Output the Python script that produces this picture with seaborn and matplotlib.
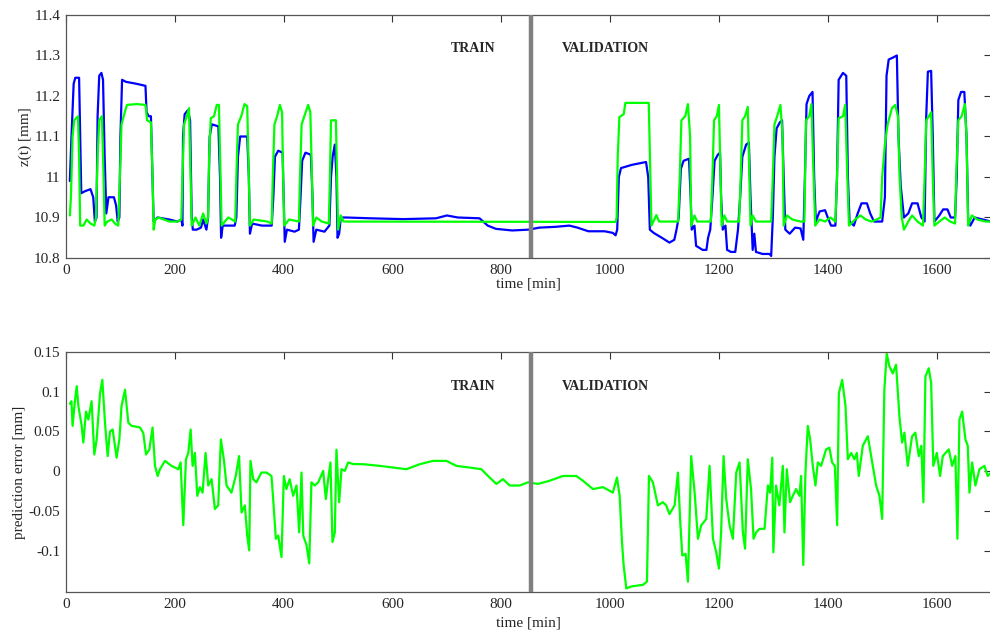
import matplotlib
matplotlib.use("Agg")
import matplotlib.pyplot as plt
import seaborn as sns
import pandas as pd
from matplotlib.ticker import FormatStrFormatter

meas_t = [7, 10, 14, 17, 24, 26, 28, 35, 45, 50, 53, 56, 58, 61, 65, 68, 71, 74, 78, 88,
          92, 95, 98, 100, 103, 110, 130, 146, 148, 152, 156, 159, 161, 168, 190, 205, 212, 214, 215, 218,
          224, 228, 231, 233, 240, 248, 252, 258, 261, 264, 268, 280, 283, 285, 288, 300, 310, 313, 316, 320,
          333, 336, 338, 342, 360, 378, 381, 384, 390, 398, 400, 402, 406, 420, 428, 431, 434, 440, 450, 453,
          455, 460, 475, 484, 487, 490, 494, 497, 499, 502, 505, 515, 560, 620, 680, 700, 720, 760, 775, 790,
          820, 850, 870, 900, 925, 940, 960, 990, 1005, 1010, 1013, 1016, 1020, 1040, 1066, 1070, 1073, 1080, 1095, 1109,
          1118, 1122, 1126, 1130, 1135, 1145, 1148, 1150, 1155, 1158, 1170, 1177, 1180, 1184, 1188, 1192, 1198, 1202, 1204, 1207,
          1212, 1215, 1222, 1230, 1235, 1239, 1243, 1250, 1255, 1258, 1262, 1265, 1268, 1280, 1293, 1296, 1299, 1302, 1306, 1312,
          1316, 1319, 1322, 1330, 1340, 1350, 1355, 1358, 1361, 1366, 1372, 1375, 1378, 1385, 1395, 1400, 1406, 1414, 1417, 1420,
          1428, 1434, 1437, 1440, 1448, 1455, 1462, 1472, 1478, 1485, 1500, 1505, 1508, 1512, 1520, 1527, 1530, 1534, 1540, 1548,
          1555, 1565, 1572, 1578, 1581, 1584, 1590, 1593, 1596, 1605, 1612, 1620, 1626, 1634, 1637, 1640, 1645, 1651, 1655, 1658,
          1662, 1670, 1685, 1700]
meas_z = [10.99, 11.10, 11.23, 11.245, 11.245, 11.10, 10.96, 10.965, 10.97, 10.95, 10.89, 10.90, 11.15, 11.25, 11.257, 11.24, 11.05, 10.91, 10.95, 10.95,
          10.93, 10.89, 10.90, 11.10, 11.24, 11.235, 11.23, 11.225, 11.16, 11.15, 11.15, 11.0, 10.89, 10.90, 10.895, 10.89, 10.895, 10.88, 11.10, 11.155,
          11.165, 11.14, 10.90, 10.87, 10.87, 10.875, 10.895, 10.87, 10.90, 11.10, 11.13, 11.125, 11.0, 10.85, 10.88, 10.88, 10.88, 10.90, 11.05, 11.10,
          11.10, 11.0, 10.86, 10.885, 10.88, 10.88, 10.95, 11.05, 11.065, 11.06, 10.95, 10.84, 10.87, 10.865, 10.87, 10.95, 11.04, 11.06, 11.055, 10.95,
          10.84, 10.87, 10.865, 10.88, 11.00, 11.05, 11.08, 11.0, 10.85, 10.86, 10.90, 10.90, 10.898, 10.896, 10.898, 10.905, 10.90, 10.898, 10.88, 10.872,
          10.868, 10.87, 10.875, 10.877, 10.88, 10.875, 10.866, 10.866, 10.862, 10.856, 10.87, 11.0, 11.022, 11.03, 11.037, 11.0, 10.87, 10.862, 10.85, 10.838,
          10.845, 10.87, 10.90, 11.02, 11.04, 11.045, 10.95, 10.87, 10.88, 10.83, 10.82, 10.82, 10.85, 10.87, 10.95, 11.04, 11.055, 11.06, 10.95, 10.87,
          10.88, 10.82, 10.815, 10.815, 10.87, 10.95, 11.05, 11.08, 11.085, 10.95, 10.82, 10.86, 10.815, 10.81, 10.81, 10.805, 10.90, 11.05, 11.12, 11.135,
          11.14, 11.0, 10.87, 10.86, 10.875, 10.873, 10.845, 11.0, 11.18, 11.20, 11.21, 11.0, 10.89, 10.915, 10.918, 10.90, 10.88, 10.88, 11.0, 11.24,
          11.257, 11.25, 11.0, 10.89, 10.88, 10.91, 10.935, 10.935, 10.91, 10.89, 10.89, 10.95, 11.25, 11.29, 11.295, 11.30, 11.1, 10.98, 10.90, 10.91,
          10.935, 10.935, 10.90, 10.89, 11.15, 11.26, 11.262, 11.1, 10.89, 10.905, 10.92, 10.92, 10.90, 10.90, 11.0, 11.19, 11.21, 11.21, 11.1, 10.90,
          10.88, 10.90, 10.895, 10.89]

model_t = [7, 9, 12, 15, 22, 24, 26, 32, 38, 45, 52, 55, 58, 61, 66, 69, 71, 76, 84, 90,
           96, 99, 102, 108, 112, 130, 146, 149, 156, 159, 161, 164, 170, 190, 205, 212, 214, 217, 222, 226,
           229, 231, 238, 245, 252, 258, 261, 263, 266, 272, 277, 281, 284, 286, 292, 298, 305, 311, 313, 316,
           322, 328, 333, 336, 338, 345, 370, 378, 380, 383, 388, 393, 397, 399, 401, 410, 428, 430, 433, 438,
           445, 449, 452, 454, 460, 470, 483, 485, 487, 496, 498, 500, 505, 510, 1010, 1012, 1014, 1017, 1025, 1028,
           1071, 1074, 1076, 1085, 1090, 1125, 1128, 1131, 1138, 1143, 1147, 1149, 1155, 1160, 1185, 1188, 1191, 1196, 1200, 1203,
           1205, 1210, 1215, 1237, 1240, 1243, 1248, 1253, 1256, 1258, 1262, 1268, 1296, 1299, 1302, 1307, 1313, 1317, 1319, 1325,
           1335, 1350, 1357, 1360, 1366, 1370, 1374, 1377, 1385, 1395, 1405, 1414, 1417, 1420, 1428, 1432, 1436, 1439, 1450, 1460,
           1470, 1480, 1490, 1497, 1500, 1505, 1510, 1518, 1524, 1529, 1532, 1536, 1540, 1548, 1555, 1565, 1575, 1578, 1581, 1586,
           1590, 1593, 1596, 1605, 1615, 1625, 1634, 1636, 1640, 1646, 1652, 1655, 1658, 1665, 1675, 1690, 1700]
model_z = [10.905, 10.95, 11.10, 11.14, 11.15, 11.05, 10.88, 10.88, 10.895, 10.885, 10.88, 10.90, 11.05, 11.14, 11.15, 11.0, 10.88, 10.89, 10.895, 10.885,
           10.88, 11.0, 11.13, 11.16, 11.178, 11.18, 11.178, 11.14, 11.135, 11.0, 10.87, 10.895, 10.90, 10.89, 10.89, 10.895, 11.0, 11.13, 11.15, 11.17,
           11.0, 10.88, 10.90, 10.88, 10.91, 10.885, 10.90, 11.05, 11.145, 11.15, 11.178, 11.178, 11.0, 10.88, 10.89, 10.90, 10.895, 10.89, 11.0, 11.13,
           11.15, 11.18, 11.175, 11.0, 10.88, 10.895, 10.89, 10.885, 11.0, 11.13, 11.15, 11.178, 11.16, 11.0, 10.88, 10.895, 10.89, 11.0, 11.13, 11.15,
           11.178, 11.16, 11.0, 10.88, 10.90, 10.89, 10.885, 11.0, 11.14, 11.14, 11.0, 10.87, 10.905, 10.89, 10.889, 10.90, 11.05, 11.148, 11.155, 11.183,
           11.183, 11.0, 10.88, 10.906, 10.89, 10.89, 11.0, 11.14, 11.15, 11.18, 11.1, 10.88, 10.905, 10.89, 10.89, 11.0, 11.14, 11.15, 11.178, 11.0,
           10.88, 10.905, 10.89, 10.89, 11.0, 11.14, 11.15, 11.173, 11.0, 10.88, 10.905, 10.89, 10.89, 11.0, 11.13, 11.15, 11.178, 11.1, 10.88, 10.905,
           10.895, 10.89, 10.89, 11.14, 11.15, 11.18, 11.0, 10.88, 10.895, 10.89, 10.90, 10.89, 11.0, 11.145, 11.15, 11.178, 11.0, 10.88, 10.895, 10.905,
           10.895, 10.89, 10.895, 10.90, 11.0, 11.08, 11.13, 11.17, 11.178, 11.15, 11.0, 10.90, 10.87, 10.89, 10.905, 10.89, 10.88, 11.0, 11.14, 11.15,
           11.16, 11.0, 10.88, 10.89, 10.90, 10.89, 10.885, 11.0, 11.14, 11.15, 11.18, 11.1, 10.88, 10.905, 10.895, 10.89, 10.89]

# prediction error [mm]
err_t = [7, 10, 12, 16, 19.6, 22.7, 28.8, 31.8, 36.7, 41, 47, 52, 56.3, 62.5, 66.7, 71.6, 76.5, 80.8, 85.7, 90,
         93, 98, 102, 108.4, 114.5, 120.6, 136, 142, 147, 153, 159, 163.5, 168.4, 172.6, 181.8, 194, 206.3, 210.6, 215.5, 220.4,
         224.7, 229, 232.6, 236.9, 241.2, 246, 251, 256.5, 261.4, 267.5, 273.6, 279.7, 284.6, 290, 295, 304, 312, 318, 322.6, 328.7,
         333, 336.7, 339, 344, 350, 359, 368.5, 377.6, 380.7, 385.6, 389.9, 396, 400.3, 405, 411, 417.5, 423.6, 428.5, 432.8, 436,
         442, 447, 451, 457, 463.5, 472.6, 477.5, 481.8, 486, 489.7, 494, 497, 502, 506.3, 512.4, 518.5, 527.7, 546, 576.7, 625.6,
         650, 674.7, 699, 717.5, 742, 763.3, 778.6, 791, 803, 815.4, 833.7, 849, 867.4, 888.8, 913.3, 937.8, 950, 968.5, 986.9, 1005,
         1012.6, 1017.5, 1021.8, 1024.8, 1029.7, 1038.9, 1060.3, 1067.7, 1071.4, 1078.6, 1087.8, 1097, 1103, 1109, 1118.5, 1124.6, 1128.9, 1132.6, 1138.7, 1143,
         1149, 1155.3, 1161.4, 1167.5, 1176.7, 1182.8, 1189, 1195, 1200, 1204, 1208.5, 1213.4, 1219.5, 1225.6, 1231.8, 1237.9, 1244, 1248, 1253, 1259,
         1263.6, 1268.5, 1274.6, 1283.8, 1290, 1294, 1298, 1300, 1305, 1311, 1317.4, 1320.4, 1324.7, 1330.8, 1335.7, 1341.8, 1348, 1351, 1355, 1359,
         1363.3, 1367.6, 1372.5, 1377.4, 1381.7, 1387.8, 1397, 1403, 1408, 1413, 1417.3, 1420.4, 1426.5, 1432.6, 1436.9, 1443, 1449, 1453.4, 1457, 1464.4,
         1473.6, 1479.7, 1488.9, 1495, 1500, 1504, 1508.4, 1513.3, 1519.4, 1525.5, 1531.7, 1536.6, 1540.9, 1547, 1555, 1561, 1567.3, 1572, 1575.8, 1579.5,
         1585.6, 1590, 1594, 1600.4, 1606.5, 1611.4, 1622.4, 1628.5, 1634.6, 1638.3, 1642, 1647, 1653, 1657.3, 1660.4, 1665.3, 1671.4, 1678.8, 1688, 1694,
         1700]
err_v = [0.085, 0.088, 0.057, 0.086, 0.107, 0.082, 0.057, 0.036, 0.075, 0.065, 0.088, 0.021, 0.04, 0.098, 0.115, 0.061, 0.019, 0.05, 0.0525, 0.032,
         0.017, 0.04, 0.082, 0.1025, 0.061, 0.057, 0.055, 0.048, 0.021, 0.027, 0.055, 0.0067, -0.006, 0.0025, 0.013, 0.0067, 0.0025, 0.011, -0.068, 0.015,
         0.023, 0.0525, 0.0067, 0.023, -0.031, -0.02, -0.027, 0.023, -0.018, -0.01, -0.0475, -0.043, 0.04, 0.015, -0.018, -0.027, -0.006, 0.019, -0.052, -0.043,
         -0.081, -0.0996, 0.013, -0.01, -0.014, -0.0017, -0.0017, -0.006, -0.035, -0.085, -0.081, -0.108, -0.006, -0.0225, -0.01, -0.031, -0.018, -0.077, -0.0017, -0.081,
         -0.093, -0.116, -0.014, -0.018, -0.014, 0.0004, -0.035, -0.01, 0.011, -0.089, -0.077, 0.027, -0.039, 0.0025, 0.0004, 0.011, 0.009, 0.0088, 0.0067, 0.0025,
         0.0088, 0.013, 0.013, 0.0067, 0.0046, 0.0025, -0.008, -0.016, -0.01, -0.018, -0.018, -0.014, -0.016, -0.012, -0.006, -0.006, -0.012, -0.0225, -0.02, -0.027,
         -0.008, -0.031, -0.089, -0.118, -0.1475, -0.145, -0.143, -0.139, -0.006, -0.014, -0.043, -0.039, -0.043, -0.054, -0.043, -0.0017, -0.064, -0.106, -0.104, -0.139,
         0.019, -0.027, -0.085, -0.068, -0.06, 0.0067, -0.085, -0.102, -0.1225, -0.077, 0.019, -0.035, -0.068, -0.085, -0.0017, 0.011, -0.077, -0.0975, 0.015, -0.0225,
         -0.085, -0.077, -0.0725, -0.0725, -0.018, -0.027, 0.017, -0.102, -0.018, -0.043, 0.0067, -0.077, 0.0025, -0.039, -0.031, -0.0225, -0.031, -0.006, -0.118, -0.0017,
         0.057, 0.04, 0.0067, -0.018, 0.011, 0.0067, 0.0275, 0.0296, 0.011, 0.0067, -0.068, 0.098, 0.115, 0.082, 0.015, 0.023, 0.015, 0.023, -0.006, 0.032,
         0.044, 0.019, -0.018, -0.031, -0.06, 0.1025, 0.148, 0.132, 0.123, 0.134, 0.069, 0.036, 0.0485, 0.0067, 0.044, 0.0485, 0.019, 0.032, -0.039, 0.119,
         0.1296, 0.111, 0.0067, 0.023, -0.006, 0.019, 0.0275, 0.0067, 0.019, -0.085, 0.065, 0.075, 0.04, 0.032, -0.027, 0.011, -0.018, 0.0025, 0.0067, -0.006,
         -0.0017]

split_t = 855
labels = ["TRAIN", "VALIDATION"]

meas = pd.DataFrame({"t": meas_t, "z": meas_z})
model = pd.DataFrame({"t": model_t, "z": model_z})
err = pd.DataFrame({"t": err_t, "e": err_v})

sns.set_style("white")
plt.rcParams["font.family"] = ["Liberation Serif", "DejaVu Serif"]
plt.rcParams["xtick.direction"] = "in"
plt.rcParams["ytick.direction"] = "in"

fig = plt.figure(figsize=(9.9, 6.35), dpi=100)
ax1 = fig.add_axes([0.0667, 0.5937, 0.9343, 0.3827])
ax2 = fig.add_axes([0.0667, 0.0677, 0.9343, 0.378])

sns.lineplot(data=meas, x="t", y="z", ax=ax1, color="#0000ff", lw=1.6, estimator=None, sort=False)
sns.lineplot(data=model, x="t", y="z", ax=ax1, color="#00ff00", lw=1.6, estimator=None, sort=False)
sns.lineplot(data=err, x="t", y="e", ax=ax2, color="#00ff00", lw=1.6, estimator=None, sort=False)

for ax in (ax1, ax2):
    ax.axvline(split_t, color="#808080", lw=3.2, zorder=5)
    ax.set_xlim(0, 1700)
    ax.set_xticks(range(0, 1700, 200))
    ax.tick_params(axis="both", which="both", top=True, right=True, length=5,
                   width=0.8, color="#333333", labelsize=11, pad=4)
    for s in ax.spines.values():
        s.set_color("#555555")
        s.set_linewidth(0.9)
    ax.yaxis.set_major_formatter(FormatStrFormatter("%g"))

ax1.set_xlabel("time [min]", fontsize=11, labelpad=1)
ax2.set_xlabel("time [min]", fontsize=11, labelpad=4)

ax1.set_ylim(10.8, 11.4)
ax1.set_yticks([10.8, 10.9, 11.0, 11.1, 11.2, 11.3, 11.4])
ax1.set_ylabel("z(t) [mm]", fontsize=11, labelpad=1)
ax1.text(748, 11.318, labels[0], ha="center", va="center", fontsize=10, fontweight="bold")
ax1.text(992, 11.318, labels[1], ha="center", va="center", fontsize=10, fontweight="bold")

ax2.set_ylim(-0.152, 0.15)
ax2.set_yticks([-0.1, -0.05, 0, 0.05, 0.1, 0.15])
ax2.set_ylabel("prediction error [mm]", fontsize=11, labelpad=2)
ax2.text(748, 0.1066, labels[0], ha="center", va="center", fontsize=10, fontweight="bold")
ax2.text(992, 0.1066, labels[1], ha="center", va="center", fontsize=10, fontweight="bold")

fig.savefig("out.png", dpi=100)
